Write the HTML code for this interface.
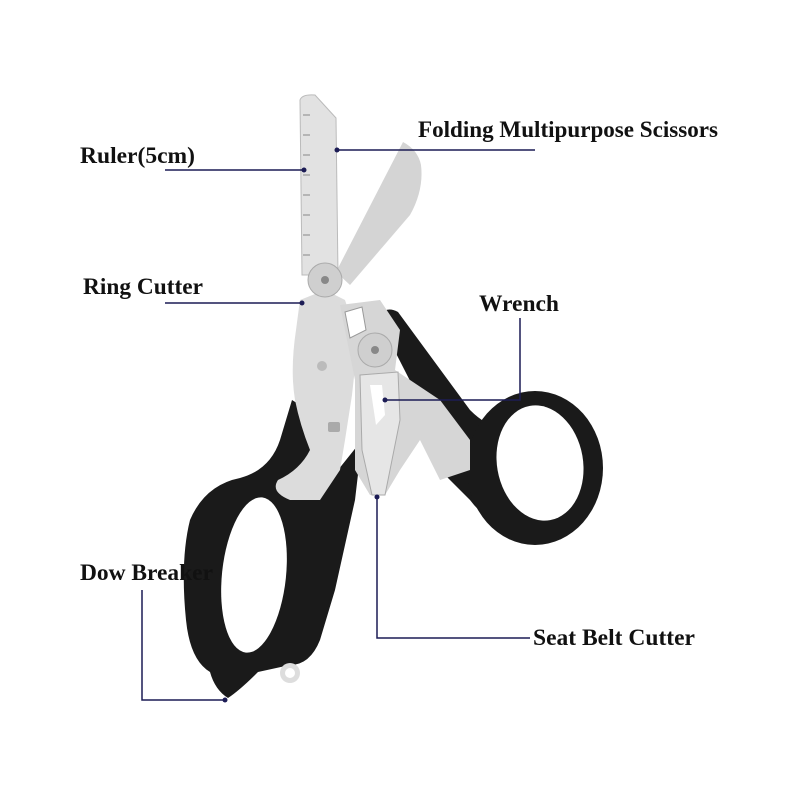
<!DOCTYPE html>
<html><head><meta charset="utf-8"><style>
html,body{margin:0;padding:0;background:#fff;}
svg{display:block}
text{font-family:"Liberation Serif",serif;font-weight:bold;font-size:23px;fill:#111}
</style></head><body>
<svg width="800" height="800" viewBox="0 0 800 800">
<path d="M378,318 Q385,305 398,312 L470,410 Q490,430 505,425 L500,520 Q485,520 470,500 L440,470 L430,420 Z" fill="#1a1a1a"/>
<ellipse cx="535" cy="468" rx="68" ry="77" fill="#1a1a1a"/>
<ellipse cx="540" cy="463" rx="43" ry="58" transform="rotate(-10 540 463)" fill="#fff"/>
<path d="M336,272 L403,142 Q418,150 421,165 Q424,190 410,215 L350,285 Z" fill="#d4d4d4"/>
<path d="M300,100 Q302,94 315,95 L336,118 L338,275 L302,275 Z" fill="#e2e2e2" stroke="#bbb" stroke-width="1"/>
<g stroke="#888" stroke-width="1">
<line x1="303" y1="115" x2="310" y2="115"/><line x1="303" y1="135" x2="310" y2="135"/><line x1="303" y1="155" x2="310" y2="155"/><line x1="303" y1="175" x2="310" y2="175"/><line x1="303" y1="195" x2="310" y2="195"/><line x1="303" y1="215" x2="310" y2="215"/><line x1="303" y1="235" x2="310" y2="235"/><line x1="303" y1="255" x2="310" y2="255"/>
</g>
<path d="M292,400 L300,405 L330,480 L362,440 L355,500 L335,590 L320,640 Q310,665 290,665 L258,672 Q240,690 228,698 Q215,690 210,672 Q190,660 186,620 Q180,560 190,520 Q205,485 240,478 Q270,470 280,440 Z" fill="#1a1a1a"/>
<ellipse cx="254" cy="575" rx="32" ry="78" transform="rotate(6 254 575)" fill="#fff"/>
<circle cx="290" cy="673" r="10" fill="#ddd"/><circle cx="290" cy="673" r="5" fill="#fff"/>
<path d="M300,300 L325,290 L345,300 L358,340 L352,395 L345,440 L340,470 L320,500 L290,500 Q270,492 278,480 Q300,470 310,450 Q300,425 295,400 Q290,370 296,330 Z" fill="#dcdcdc"/>
<path d="M340,305 L380,300 L400,330 L395,370 L440,400 L470,440 L470,470 L440,480 L420,440 L400,470 L385,495 L370,495 L355,470 L355,380 Z" fill="#d6d6d6"/>
<path d="M360,375 L398,372 L400,420 L385,495 L372,495 L362,450 Z" fill="#e6e6e6" stroke="#aaa" stroke-width="1"/>
<path d="M370,385 L382,385 L385,415 L376,425 Z" fill="#fff"/>
<path d="M345,312 L362,307 L366,330 L350,338 Z" fill="#fff" stroke="#999"/>
<circle cx="325" cy="280" r="17" fill="#cfcfcf" stroke="#aaa"/><circle cx="325" cy="280" r="4" fill="#888"/>
<circle cx="375" cy="350" r="17" fill="#cfcfcf" stroke="#aaa"/><circle cx="375" cy="350" r="4" fill="#888"/>
<circle cx="322" cy="366" r="5" fill="#bbb"/>
<rect x="328" y="422" width="12" height="10" rx="2" fill="#aaa"/>
<g stroke="#1c1c55" stroke-width="1.5" fill="none">
<polyline points="165,170 304,170"/>
<polyline points="337,150 535,150"/>
<polyline points="165,303 302,303"/>
<polyline points="385,400 520,400 520,318"/>
<polyline points="377,497 377,638 530,638"/>
<polyline points="142,590 142,700 225,700"/>
</g>
<g fill="#1c1c55">
<circle cx="304" cy="170" r="2.5"/><circle cx="337" cy="150" r="2.5"/><circle cx="302" cy="303" r="2.5"/>
<circle cx="385" cy="400" r="2.5"/><circle cx="377" cy="497" r="2.5"/><circle cx="225" cy="700" r="2.5"/>
</g>
<text x="80" y="163" textLength="115" lengthAdjust="spacingAndGlyphs">Ruler(5cm)</text>
<text x="418" y="137" textLength="300" lengthAdjust="spacingAndGlyphs">Folding Multipurpose Scissors</text>
<text x="83" y="294" textLength="120" lengthAdjust="spacingAndGlyphs">Ring Cutter</text>
<text x="479" y="311" textLength="80" lengthAdjust="spacingAndGlyphs">Wrench</text>
<text x="80" y="580" textLength="133" lengthAdjust="spacingAndGlyphs">Dow Breaker</text>
<text x="533" y="645" textLength="162" lengthAdjust="spacingAndGlyphs">Seat Belt Cutter</text>
</svg>
</body></html>
